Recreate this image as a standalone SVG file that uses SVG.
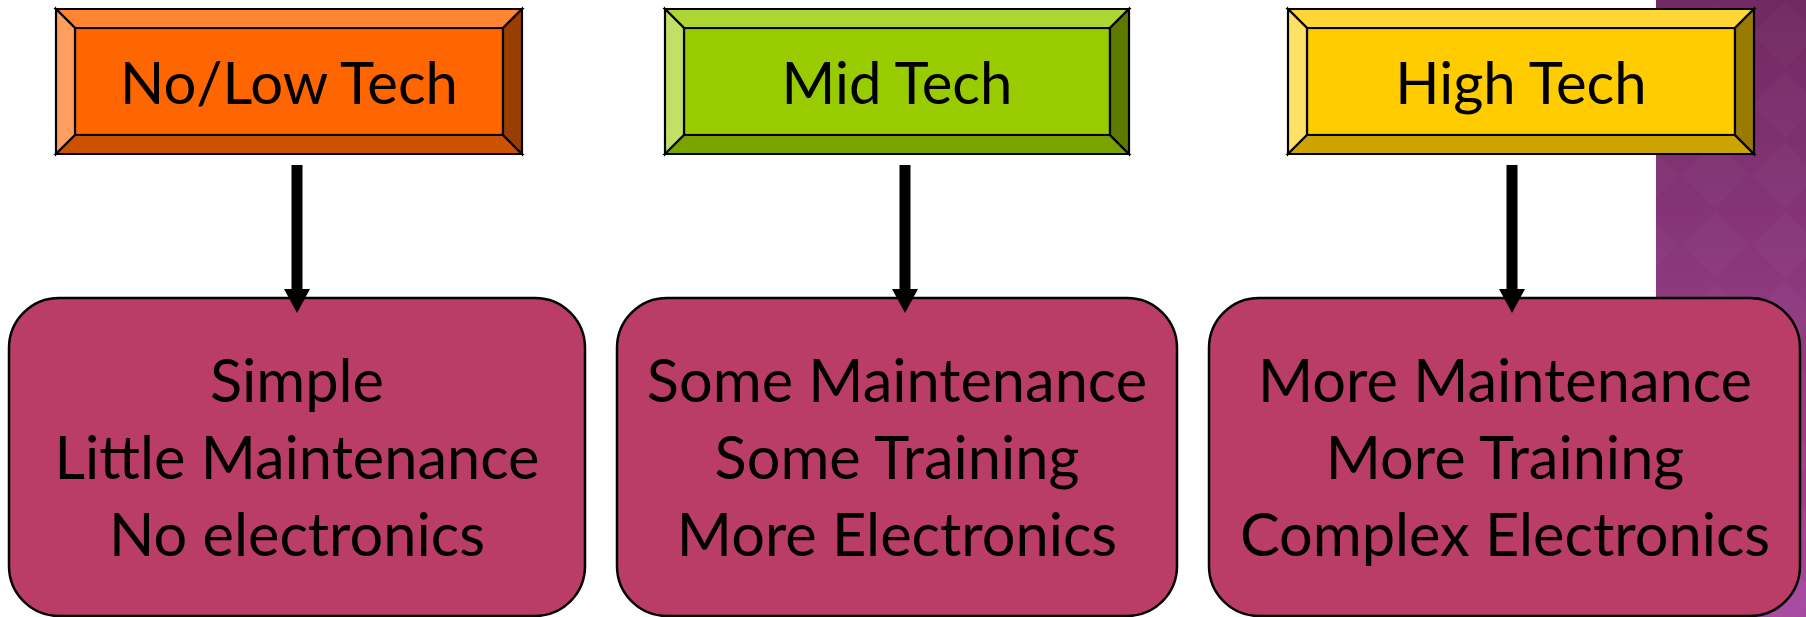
<svg xmlns="http://www.w3.org/2000/svg" width="1806" height="617" viewBox="0 0 1806 617">
  <style>
    .bev polygon, .bev rect { stroke: #000; stroke-width: 2.2; stroke-linejoin: miter; }
    .orange .top { fill: #FF8533; } .orange .left { fill: #FF9E5E; } .orange .face { fill: #FF6600; } .orange .bottom { fill: #CC5200; } .orange .right { fill: #993D00; }
    .green .top { fill: #ADD633; } .green .left { fill: #C2E066; } .green .face { fill: #99CC00; } .green .bottom { fill: #7AA300; } .green .right { fill: #5C7A00; }
    .yellow .top { fill: #FFD633; } .yellow .left { fill: #FFE066; } .yellow .face { fill: #FFCC00; } .yellow .bottom { fill: #CCA300; } .yellow .right { fill: #997A00; }
    .label { font-family: Lato, "Open Sans", sans-serif; font-size: 58px; fill: #000; text-anchor: middle; }
    .body { font-size: 59.5px; }
    .card { fill: #B93D67; stroke: #000; stroke-width: 2.5; }
    .conn line { stroke: #000; stroke-width: 11; }
  </style>
  <defs>
    <linearGradient id="purp" x1="0" y1="0" x2="0" y2="1">
      <stop offset="0" stop-color="#702961"/>
      <stop offset="0.5" stop-color="#8E3A80"/>
      <stop offset="1" stop-color="#A6489F"/>
    </linearGradient>
    <pattern id="diam" width="70" height="70" patternUnits="userSpaceOnUse">
      <path d="M35,2 L68,35 L35,68 L2,35 Z" fill="#ffffff" fill-opacity="0.018"/>
    </pattern>
    <marker id="head" viewBox="0 0 24 26" markerWidth="24" markerHeight="26" refX="0" refY="13" orient="auto" markerUnits="userSpaceOnUse">
      <path d="M0,0 L24,13 L0,26 Z" fill="#000"/>
    </marker>
  </defs>

  <rect x="0" y="0" width="1806" height="617" fill="#FFFFFF"/>
  <g id="backdrop">
    <rect x="1656" y="0" width="150" height="617" fill="url(#purp)"/>
    <rect x="1656" y="0" width="150" height="617" fill="url(#diam)"/>
  </g>

  <g id="node-nolow" class="bev orange">
    <rect class="face" x="75" y="28" width="428" height="107"/>
    <polygon class="top" points="56,9 522,9 503,28 75,28"/>
    <polygon class="left" points="56,9 75,28 75,135 56,154"/>
    <polygon class="bottom" points="56,154 75,135 503,135 522,154"/>
    <polygon class="right" points="522,9 522,154 503,135 503,28"/>
    <text class="label" x="289" y="104">No/Low Tech</text>
  </g>

  <g id="node-mid" class="bev green">
    <rect class="face" x="684" y="28" width="426" height="107"/>
    <polygon class="top" points="665,9 1129,9 1110,28 684,28"/>
    <polygon class="left" points="665,9 684,28 684,135 665,154"/>
    <polygon class="bottom" points="665,154 684,135 1110,135 1129,154"/>
    <polygon class="right" points="1129,9 1129,154 1110,135 1110,28"/>
    <text class="label" x="897" y="104">Mid Tech</text>
  </g>

  <g id="node-high" class="bev yellow">
    <rect class="face" x="1307" y="28" width="428" height="107"/>
    <polygon class="top" points="1288,9 1754,9 1735,28 1307,28"/>
    <polygon class="left" points="1288,9 1307,28 1307,135 1288,154"/>
    <polygon class="bottom" points="1288,154 1307,135 1735,135 1754,154"/>
    <polygon class="right" points="1754,9 1754,154 1735,135 1735,28"/>
    <text class="label" x="1521" y="104">High Tech</text>
  </g>

  <g id="node-simple">
    <rect class="card" x="9" y="298" width="576" height="318" rx="50" ry="50"/>
    <text class="label body" x="297" y="402">Simple</text>
    <text class="label body" x="297" y="479">Little Maintenance</text>
    <text class="label body" x="297" y="556">No electronics</text>
  </g>

  <g id="node-some">
    <rect class="card" x="617" y="298" width="560" height="318" rx="50" ry="50"/>
    <text class="label body" x="897" y="402">Some Maintenance</text>
    <text class="label body" x="897" y="479">Some Training</text>
    <text class="label body" x="897" y="556">More Electronics</text>
  </g>

  <g id="node-more">
    <rect class="card" x="1209" y="298" width="591" height="318" rx="50" ry="50"/>
    <text class="label body" x="1505" y="402">More Maintenance</text>
    <text class="label body" x="1505" y="479">More Training</text>
    <text class="label body" x="1505" y="556">Complex Electronics</text>
  </g>

  <g id="connectors" class="conn">
    <line x1="297" y1="165" x2="297" y2="289" marker-end="url(#head)"/>
    <line x1="905" y1="165" x2="905" y2="289" marker-end="url(#head)"/>
    <line x1="1512" y1="165" x2="1512" y2="289" marker-end="url(#head)"/>
  </g>
</svg>
